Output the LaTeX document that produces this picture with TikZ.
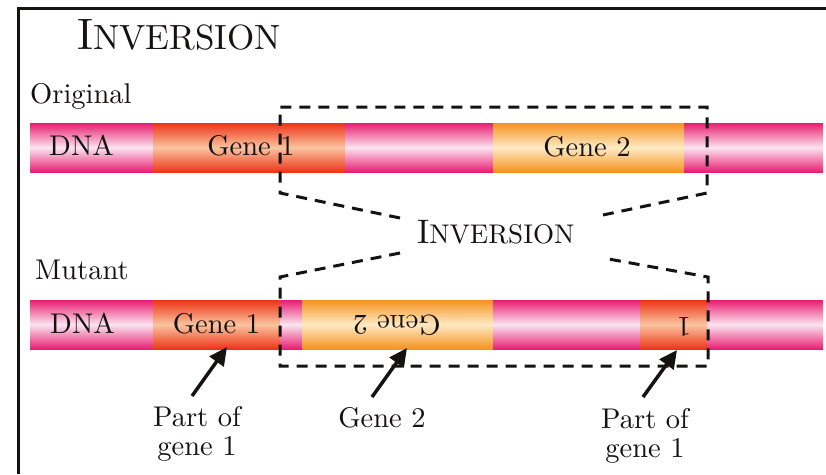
\documentclass[tikz,border=0pt]{standalone}
\usepackage{fontspec}
\setmainfont{lmroman10-regular.otf}
\usetikzlibrary{arrows.meta}
\definecolor{pinkE}{RGB}{232,30,112}
\definecolor{pinkC}{RGB}{251,228,240}
\definecolor{redE}{RGB}{238,52,22}
\definecolor{redC}{RGB}{250,196,160}
\definecolor{oraE}{RGB}{246,146,32}
\definecolor{oraC}{RGB}{254,234,196}
\definecolor{ink}{RGB}{22,18,18}
\tikzset{
  pinkseg/.style={top color=pinkE,bottom color=pinkE,middle color=pinkC},
  redseg/.style={top color=redE,bottom color=redE,middle color=redC},
  oraseg/.style={top color=oraE,bottom color=oraE,middle color=oraC},
  lbl/.style={inner sep=0pt,anchor=base,text=ink,font=\fontsize{28.5}{28.5}\selectfont},
  lblw/.style={lbl,anchor=base west},
  dashline/.style={draw=ink,line width=3pt,dash pattern=on 11pt off 8pt},
  pointer/.style={draw=ink,line width=3.5pt,-{Triangle[length=18pt,width=17pt]}},
  frameline/.style={draw=ink,line width=3pt},
}
\newcommand\dnaseg[5]{\shade[#5] (#1,#3) rectangle (#2,#4);}
\begin{document}
\begin{tikzpicture}[x=1pt,y=-1pt]
\useasboundingbox (0,0) rectangle (826,474);
\fill[white] (0,0) rectangle (826,474);
% frame
\draw[frameline] (18.5,474) -- (18.5,8.5) -- (826,8.5);
% title
\node[lblw] (title) at (77,49) {\fontsize{44}{44}\selectfont I\fontsize{35}{35}\selectfont NVERSION};
\node[lblw] (orig) at (30,103) {Original};
\node[lblw] (mut) at (35,279) {Mutant};
% original bar
\dnaseg{30}{154}{123}{172}{pinkseg}
\dnaseg{153}{346}{123}{172}{redseg}
\dnaseg{345}{494}{123}{172}{pinkseg}
\dnaseg{493}{685}{123}{172}{oraseg}
\dnaseg{684}{823}{123}{172}{pinkseg}
% mutant bar
\dnaseg{30}{154}{300}{349}{pinkseg}
\dnaseg{153}{281}{300}{349}{redseg}
\dnaseg{280}{303}{300}{349}{pinkseg}
\dnaseg{302}{494}{300}{349}{oraseg}
\dnaseg{493}{641}{300}{349}{pinkseg}
\dnaseg{640}{708}{300}{349}{redseg}
\dnaseg{707}{823}{300}{349}{pinkseg}
% bar texts
\node[lbl] (dnaA) at (81.5,155) {DNA};
\node[lbl] (g1A) at (251,155) {Gene 1};
\node[lbl] (g2A) at (587,156) {Gene 2};
\node[lbl] (dnaB) at (82.5,333) {DNA};
\node[lbl] (g1B) at (216.5,333) {Gene 1};
\node[lbl,anchor=center,rotate=180] (g2B) at (397,325) {Gene 2};
\node[lbl,anchor=center,rotate=180] (g1part) at (684,327) {1};
% middle label
\node[lblw] (inv) at (417,243) {\fontsize{34}{34}\selectfont I\fontsize{27}{27}\selectfont NVERSION};
% dashed outline
\draw[dashline] (400,218) -- (280,193) -- (280,107) -- (707,107) -- (707,193) -- (603,215);
\draw[dashline] (400,253) -- (280,277) -- (280,366) -- (708,366) -- (708,277) -- (603,258);
% bottom labels
\node[lbl,align=center] (pL) at (197,455) {Part of\\gene 1};
\node[lbl] (g2lab) at (382,427) {Gene 2};
\node[lbl,align=center] (pR) at (645,457) {Part of\\gene 1};
% arrows
\coordinate (t1) at (192,396); \coordinate (h1) at (227,347);
\coordinate (t2) at (372,397); \coordinate (h2) at (407,348);
\coordinate (t3) at (643,397); \coordinate (h3) at (677,350);
\draw[pointer] (t1) -- (h1);
\draw[pointer] (t2) -- (h2);
\draw[pointer] (t3) -- (h3);
\end{tikzpicture}
\end{document}
